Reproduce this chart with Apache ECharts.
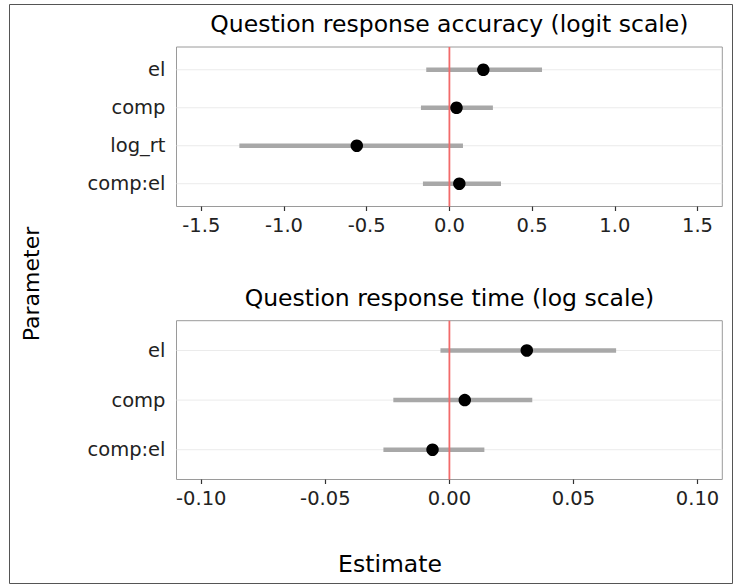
<!DOCTYPE html>
<html><head><meta charset="utf-8">
<script src="https://cdn.jsdelivr.net/npm/echarts@6/dist/echarts.min.js"></script>
<style>html,body{margin:0;padding:0;background:#fff}#c{width:734px;height:586px}</style>
</head><body><div id="c"></div>
<script>
// ---- data ----
const accCategories = ['el', 'comp', 'log_rt', 'comp:el'];
const accEstimate = [0.205, 0.043, -0.56, 0.06];
const accLower = [-0.14, -0.172, -1.27, -0.16];
const accUpper = [0.56, 0.263, 0.082, 0.312];
const accTicks = [-1.5, -1.0, -0.5, 0, 0.5, 1.0, 1.5];

const rtCategories = ['el', 'comp', 'comp:el'];
const rtEstimate = [0.0312, 0.0062, -0.0068];
const rtLower = [-0.0036, -0.0226, -0.0266];
const rtUpper = [0.0672, 0.0334, 0.0141];
const rtTicks = [-0.10, -0.05, 0, 0.05, 0.10];

const referenceValue = 0;
const titles = ['Question response accuracy (logit scale)', 'Question response time (log scale)'];
const xTitle = 'Estimate';
const yTitle = 'Parameter';

// ---- styling ----
const FONT = 'DejaVu Sans';
const TICK_FS = 19.5;
const PL = 176.5, PW = 545.8;
const panels = [
  {top: 47, height: 159.5, n: accCategories.length, xmin: -1.65, xmax: 1.65},
  {top: 320.7, height: 158.8, n: rtCategories.length, xmin: -0.11, xmax: 0.11}
];
function dataGrid(p) {
  const unit = p.height / (p.n - 1 + 1.2);
  return {left: PL, width: PW, top: p.top + 0.1 * unit, height: p.n * unit, offset: 0.1 * unit};
}
const dg = panels.map(dataGrid);

const chart = echarts.init(document.getElementById('c'), null, {renderer: 'svg'});

function hiddenX(gi, p) { return {gridIndex: gi, type: 'value', show: false, min: p.xmin, max: p.xmax}; }
function hiddenY(gi) { return {gridIndex: gi, type: 'value', show: false, min: 0, max: 1}; }
function shownX(gi, p, off, ticks, dec) {
  return {
    gridIndex: gi, type: 'value', min: p.xmin, max: p.xmax, offset: off,
    axisLine: {show: false},
    axisTick: {show: true, length: 4.5, customValues: ticks, lineStyle: {color: '#333', width: 1.2}},
    axisLabel: {customValues: ticks, formatter: v => Number(v).toFixed(dec), fontSize: TICK_FS, fontFamily: FONT, color: '#222', margin: 9},
    splitLine: {show: false}
  };
}
function shownY(gi, cats) {
  return {
    gridIndex: gi, type: 'category', data: cats, inverse: true,
    axisLine: {show: false},
    axisTick: {show: true, alignWithLabel: true, length: 4.5, lineStyle: {color: '#333', width: 1.2}},
    axisLabel: {fontSize: TICK_FS, fontFamily: FONT, color: '#222', margin: 11},
    splitLine: {show: false}
  };
}

function gridLineSeries(xi, yi, cats) {
  return {
    type: 'custom', xAxisIndex: xi, yAxisIndex: yi, z: 1, silent: true,
    data: cats.map((c, i) => [0, i]), encode: {x: 0, y: 1},
    renderItem: function (params, api) {
      const y = api.coord([0, api.value(1)])[1];
      const cs = params.coordSys;
      return {type: 'line', shape: {x1: cs.x, y1: y, x2: cs.x + cs.width, y2: y}, style: {stroke: '#ebebeb', lineWidth: 1}};
    }
  };
}
function errorBarSeries(xi, yi, lo, hi) {
  return {
    type: 'custom', xAxisIndex: xi, yAxisIndex: yi, z: 2, silent: true,
    data: lo.map((l, i) => [l, hi[i], i]), encode: {x: [0, 1], y: 2},
    renderItem: function (params, api) {
      const a = api.coord([api.value(0), api.value(2)]);
      const b = api.coord([api.value(1), api.value(2)]);
      return {type: 'line', shape: {x1: a[0], y1: a[1], x2: b[0], y2: b[1]}, style: {stroke: '#a8a8a8', lineWidth: 4.5}};
    }
  };
}
function zeroLineSeries(xi, yi) {
  return {
    type: 'custom', xAxisIndex: xi, yAxisIndex: yi, z: 3, silent: true,
    data: [[referenceValue, 0]], encode: {x: 0, y: 1},
    renderItem: function (params, api) {
      const x = api.coord([api.value(0), 0])[0];
      const cs = params.coordSys;
      return {type: 'line', shape: {x1: x, y1: cs.y, x2: x, y2: cs.y + cs.height}, style: {stroke: '#f26a6a', lineWidth: 1.8}};
    }
  };
}
function pointSeries(xi, yi, est) {
  return {
    type: 'scatter', xAxisIndex: xi, yAxisIndex: yi, z: 10, silent: true,
    symbol: 'circle', symbolSize: 12.5, itemStyle: {color: '#000', opacity: 1},
    data: est.map((v, i) => [v, i])
  };
}

const option = {
  animation: false,
  backgroundColor: '#fff',
  grid: [
    {left: PL, width: PW, top: panels[0].top, height: panels[0].height, show: true, borderColor: '#9a9a9a', borderWidth: 1, backgroundColor: 'transparent'},
    {left: dg[0].left, width: dg[0].width, top: dg[0].top, height: dg[0].height},
    {left: PL, width: PW, top: panels[1].top, height: panels[1].height, show: true, borderColor: '#9a9a9a', borderWidth: 1, backgroundColor: 'transparent'},
    {left: dg[1].left, width: dg[1].width, top: dg[1].top, height: dg[1].height}
  ],
  xAxis: [
    hiddenX(0, panels[0]),
    shownX(1, panels[0], dg[0].offset, accTicks, 1),
    hiddenX(2, panels[1]),
    shownX(3, panels[1], dg[1].offset, rtTicks, 2)
  ],
  yAxis: [
    hiddenY(0),
    shownY(1, accCategories),
    hiddenY(2),
    shownY(3, rtCategories)
  ],
  series: [
    gridLineSeries(1, 1, accCategories),
    errorBarSeries(1, 1, accLower, accUpper),
    zeroLineSeries(0, 0),
    pointSeries(1, 1, accEstimate),
    gridLineSeries(3, 3, rtCategories),
    errorBarSeries(3, 3, rtLower, rtUpper),
    zeroLineSeries(2, 2),
    pointSeries(3, 3, rtEstimate)
  ],
  graphic: [
    {type: 'rect', shape: {x: 9.5, y: 4.5, width: 723, height: 579}, style: {fill: 'none', stroke: '#555', lineWidth: 1}, silent: true, z: -1},
    {type: 'text', x: PL + PW / 2, y: 24, style: {text: titles[0], fontSize: 23.5, fontFamily: FONT, fill: '#000', textAlign: 'center', textVerticalAlign: 'middle'}},
    {type: 'text', x: PL + PW / 2, y: 298, style: {text: titles[1], fontSize: 23.5, fontFamily: FONT, fill: '#000', textAlign: 'center', textVerticalAlign: 'middle'}},
    {type: 'text', x: 390, y: 564, style: {text: xTitle, fontSize: 23.5, fontFamily: FONT, fill: '#000', textAlign: 'center', textVerticalAlign: 'middle'}},
    {type: 'text', x: 31, y: 284, rotation: Math.PI / 2, style: {text: yTitle, fontSize: 22, fontFamily: FONT, fill: '#000', textAlign: 'center', textVerticalAlign: 'middle'}}
  ]
};
chart.setOption(option);
</script>
</body></html>
